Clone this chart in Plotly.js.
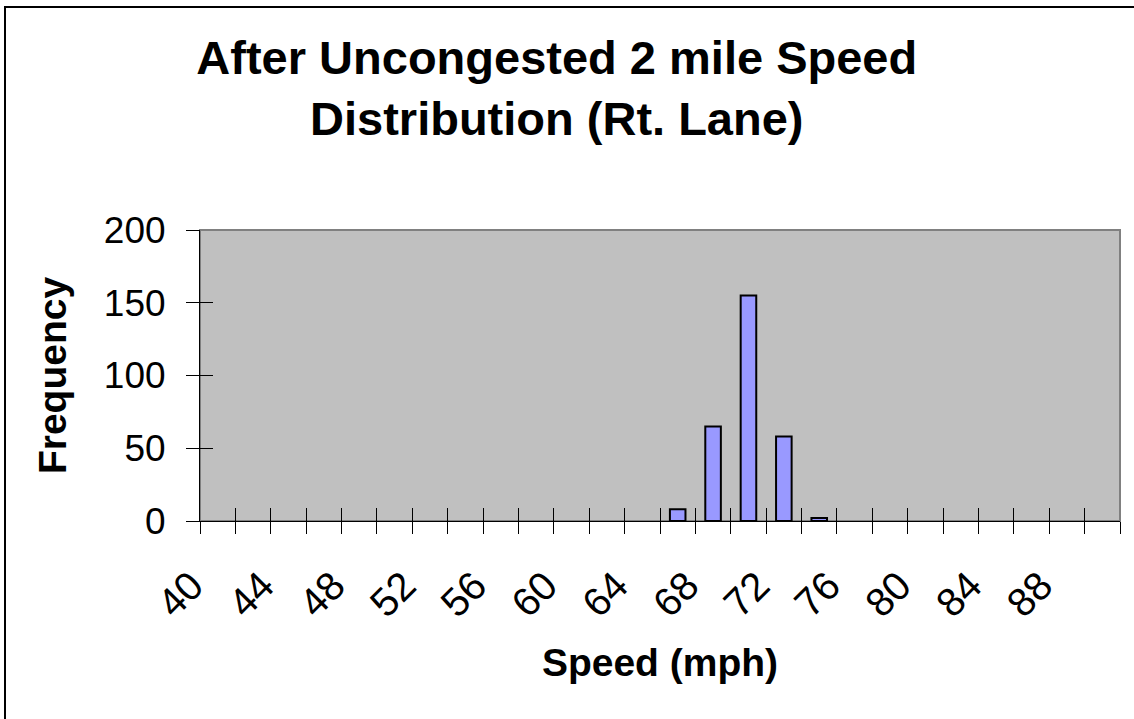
<!DOCTYPE html>
<html>
<head>
<meta charset="utf-8">
<script src="https://cdn.plot.ly/plotly-3.0.1.min.js"></script>
<style>
  html, body { margin: 0; padding: 0; background: #ffffff; }
  #wrap { position: relative; width: 1134px; height: 719px; overflow: hidden; }
  #chart { position: absolute; left: 0; top: 0; width: 1134px; height: 719px; }
  #frame { position: absolute; left: 4px; top: 6px; width: 1200px; height: 800px;
           border-left: 2px solid #000; border-top: 2px solid #000; pointer-events: none; }
</style>
</head>
<body>
<div id="wrap">
  <div id="chart"></div>
  <div id="frame"></div>
</div>
<script>
// Speed bins (mph) and frequencies
const speedBins = [40, 42, 44, 46, 48, 50, 52, 54, 56, 58, 60, 62, 64, 66, 68, 70, 72, 74, 76, 78, 80, 82, 84, 86, 88, 90];
const frequency = [0, 0, 0, 0, 0, 0, 0, 0, 0, 0, 0, 0, 0, 8, 65, 155, 58, 2, 0, 0, 0, 0, 0, 0, 0, 0];
const labelBins = [40, 44, 48, 52, 56, 60, 64, 68, 72, 76, 80, 84, 88];
const binBoundaries = [39, 41, 43, 45, 47, 49, 51, 53, 55, 57, 59, 61, 63, 65, 67, 69, 71, 73, 75, 77, 79, 81, 83, 85, 87, 89, 91];
const yTicks = [0, 50, 100, 150, 200];

const FONT = 'Liberation Sans, Arial, Helvetica, sans-serif';

const trace = {
  type: 'bar',
  x: speedBins,
  y: frequency,
  marker: {
    color: '#9999FF',
    line: { color: '#000000', width: frequency.map(v => (v > 0 ? 2 : 0)) }
  },
  hoverinfo: 'x+y'
};

const dummy = { type: 'scatter', x: [], y: [], xaxis: 'x2', yaxis: 'y2', showlegend: false };

const layout = {
  width: 1134,
  height: 719,
  paper_bgcolor: '#ffffff',
  plot_bgcolor: '#C0C0C0',
  showlegend: false,
  bargap: 0.56,
  margin: { l: 200, r: 14, t: 230, b: 198, pad: 0 },
  font: { family: FONT, color: '#000000' },
  title: {
    text: '<b>After Uncongested 2 mile Speed<br>Distribution (Rt. Lane)</b>',
    font: { family: FONT, size: 47, color: '#000000' },
    x: 0.491, xref: 'container', xanchor: 'center',
    y: 0.897, yref: 'container', yanchor: 'top'
  },
  xaxis: {
    type: 'linear',
    range: [39, 91],
    tickvals: labelBins,
    ticktext: labelBins.map(String),
    tickangle: -45,
    ticks: '',
    tickfont: { family: FONT, size: 40, color: '#000000' },
    ticklabelstandoff: 24,
    ticklabelshift: -26,
    minor: { tickvals: binBoundaries, ticks: 'outside', ticklen: 12, tickcolor: '#000000', tickwidth: 1, showgrid: false },
    showgrid: false,
    zeroline: false,
    showline: true,
    linecolor: '#000000',
    linewidth: 1,
    title: { text: '<b>Speed (mph)</b>', font: { family: FONT, size: 39, color: '#000000' }, standoff: 24 },
    fixedrange: true
  },
  xaxis2: {
    type: 'linear',
    overlaying: 'x',
    anchor: 'y',
    side: 'bottom',
    range: [39, 91],
    tickvals: binBoundaries,
    ticks: 'inside',
    ticklen: 13,
    tickcolor: '#000000',
    tickwidth: 1,
    showticklabels: false,
    showgrid: false,
    zeroline: false,
    showline: false,
    fixedrange: true
  },
  yaxis: {
    range: [0, 200],
    tickvals: yTicks,
    ticks: 'outside',
    ticklen: 13,
    tickcolor: '#000000',
    tickwidth: 1,
    tickfont: { family: FONT, size: 37, color: '#000000' },
    ticklabelstandoff: 13,
    showgrid: false,
    zeroline: false,
    showline: true,
    linecolor: '#000000',
    linewidth: 1,
    title: { text: '<b>Frequency</b>', font: { family: FONT, size: 39, color: '#000000' }, standoff: 25 },
    fixedrange: true
  },
  yaxis2: {
    overlaying: 'y',
    anchor: 'x',
    side: 'left',
    range: [0, 200],
    tickvals: yTicks,
    ticks: 'inside',
    ticklen: 13,
    tickcolor: '#000000',
    tickwidth: 1,
    showticklabels: false,
    showgrid: false,
    zeroline: false,
    showline: false,
    fixedrange: true
  },
  shapes: [
    { type: 'rect', xref: 'paper', yref: 'paper', x0: 0, x1: 1, y0: 0, y1: 1,
      line: { color: '#808080', width: 2 }, layer: 'below' }
  ]
};

Plotly.newPlot('chart', [trace, dummy], layout, { displayModeBar: false, staticPlot: true });
</script>
</body>
</html>
